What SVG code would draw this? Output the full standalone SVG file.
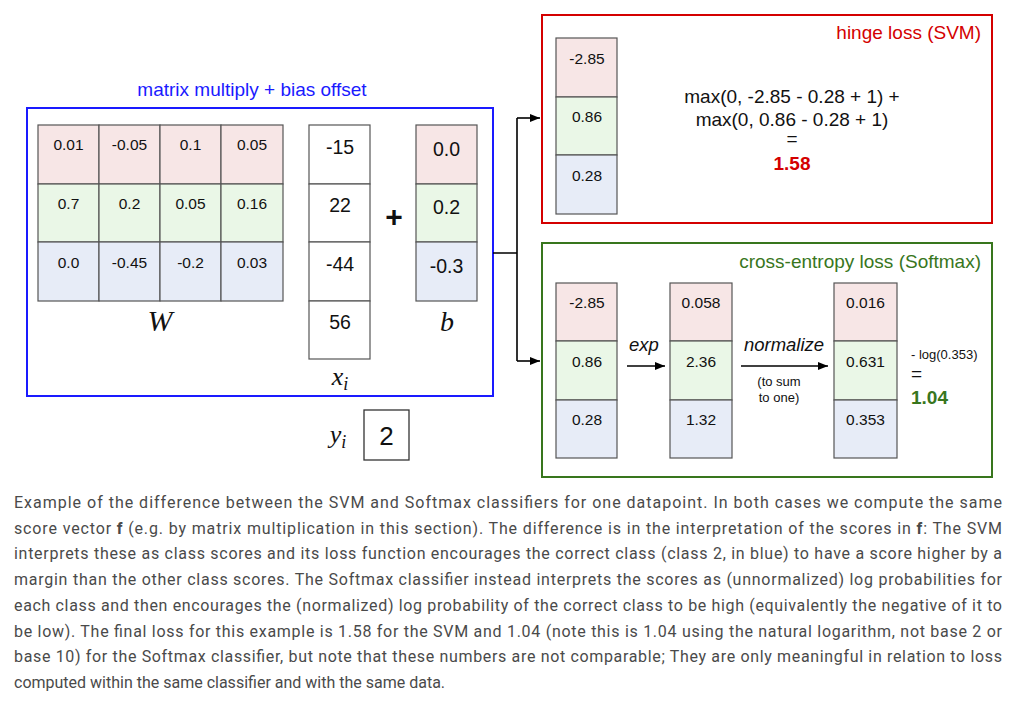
<svg xmlns="http://www.w3.org/2000/svg" width="1013" height="707" viewBox="0 0 1013 707">
<defs>
<marker id="ah" viewBox="0 0 10 10" refX="10" refY="5" markerWidth="10" markerHeight="10" markerUnits="userSpaceOnUse" orient="auto"><path d="M0,1 L10,5 L0,9 z" fill="#000"/></marker>
<style>
.r{fill:#f7e6e6}.g{fill:#eaf7e7}.b{fill:#e7ecf7}.w{fill:#fff}
.c{stroke:#555;stroke-width:1.2}
.t{font-family:"Liberation Sans",Arial,sans-serif;font-size:15.5px;fill:#111;text-anchor:middle}
.t16{font-family:"Liberation Sans",Arial,sans-serif;font-size:19.5px;fill:#111;text-anchor:middle}
.m{font-family:"Liberation Serif","Times New Roman",serif;font-style:italic;fill:#111;text-anchor:middle}
.cap{font-family:Roboto,"Liberation Sans",sans-serif;font-size:16px;fill:#4a4a4a}
.conn{stroke:#000;stroke-width:1.6;fill:none}
.s{font-family:"Liberation Sans",Arial,sans-serif}
</style>
</defs>
<rect width="1013" height="707" fill="#fff"/>

<g id="matrix-box">
<rect x="27" y="108" width="466" height="288" fill="none" stroke="#1a1aff" stroke-width="2"/>
<text class="s" x="252" y="96" font-size="19" fill="#1a1aff" text-anchor="middle">matrix multiply + bias offset</text>
</g>

<g id="W">
<g class="c">
<rect class="r" x="38" y="125" width="61" height="59"/><rect class="r" x="99" y="125" width="61" height="59"/><rect class="r" x="160" y="125" width="61" height="59"/><rect class="r" x="221" y="125" width="62" height="59"/>
<rect class="g" x="38" y="184" width="61" height="58"/><rect class="g" x="99" y="184" width="61" height="58"/><rect class="g" x="160" y="184" width="61" height="58"/><rect class="g" x="221" y="184" width="62" height="58"/>
<rect class="b" x="38" y="242" width="61" height="59"/><rect class="b" x="99" y="242" width="61" height="59"/><rect class="b" x="160" y="242" width="61" height="59"/><rect class="b" x="221" y="242" width="62" height="59"/>
</g>
<text class="t" x="68.5" y="150">0.01</text><text class="t" x="129.5" y="150">-0.05</text><text class="t" x="190.5" y="150">0.1</text><text class="t" x="252" y="150">0.05</text>
<text class="t" x="68.5" y="209">0.7</text><text class="t" x="129.5" y="209">0.2</text><text class="t" x="190.5" y="209">0.05</text><text class="t" x="252" y="209">0.16</text>
<text class="t" x="68.5" y="268">0.0</text><text class="t" x="129.5" y="268">-0.45</text><text class="t" x="190.5" y="268">-0.2</text><text class="t" x="252" y="268">0.03</text>
<text class="m" x="160" y="331" font-size="30">W</text>
</g>

<g id="x">
<g class="c">
<rect class="w" x="309" y="125" width="61" height="59"/><rect class="w" x="309" y="184" width="61" height="58"/><rect class="w" x="309" y="242" width="61" height="59"/><rect class="w" x="309" y="301" width="61" height="58"/>
</g>
<text class="t16" x="340" y="154">-15</text><text class="t16" x="340" y="212">22</text><text class="t16" x="340" y="271">-44</text><text class="t16" x="340" y="329">56</text>
<text class="m" x="340" y="385" font-size="26">x<tspan font-size="18" dy="5">i</tspan></text>
</g>

<g id="plus"><text class="s" x="394" y="227" font-size="30" font-weight="bold" fill="#111" text-anchor="middle">+</text></g>

<g id="b">
<g class="c">
<rect class="r" x="416" y="125" width="61" height="59"/><rect class="g" x="416" y="184" width="61" height="58"/><rect class="b" x="416" y="242" width="61" height="59"/>
</g>
<text class="t16" x="446.5" y="156">0.0</text><text class="t16" x="446.5" y="214">0.2</text><text class="t16" x="446.5" y="273">-0.3</text>
<text class="m" x="447" y="331" font-size="28">b</text>
</g>

<g id="y">
<text class="m" x="338" y="443" font-size="26">y<tspan font-size="18" dy="5">i</tspan></text>
<rect x="364" y="410" width="45" height="50" fill="#fff" stroke="#333" stroke-width="1.3"/>
<text class="s" x="386.5" y="445" font-size="26" fill="#111" text-anchor="middle">2</text>
</g>

<g id="connectors">
<path class="conn" d="M493,253 H517 M517,118 V361"/>
<path class="conn" d="M517,118 H540" marker-end="url(#ah)"/>
<path class="conn" d="M517,361 H540" marker-end="url(#ah)"/>
<path class="conn" d="M627,366 H665" marker-end="url(#ah)"/>
<path class="conn" d="M741,366 H828" marker-end="url(#ah)"/>
</g>

<g id="svm">
<rect x="542" y="15" width="450" height="208" fill="none" stroke="#d40000" stroke-width="2"/>
<text class="s" x="981" y="39" font-size="19" fill="#d40000" text-anchor="end">hinge loss (SVM)</text>
<g class="c">
<rect class="r" x="556" y="38" width="61" height="59"/><rect class="g" x="556" y="97" width="61" height="58"/><rect class="b" x="556" y="155" width="61" height="59"/>
</g>
<text class="t" x="587" y="64">-2.85</text><text class="t" x="587" y="122">0.86</text><text class="t" x="587" y="181">0.28</text>
<g class="s" font-size="19" fill="#111" text-anchor="middle">
<text x="792" y="103">max(0, -2.85 - 0.28 + 1) +</text>
<text x="792" y="126">max(0, 0.86 - 0.28 + 1)</text>
<text x="792" y="145">=</text>
</g>
<text class="s" x="792" y="170" font-size="19" font-weight="bold" fill="#d40000" text-anchor="middle">1.58</text>
</g>

<g id="softmax">
<rect x="542" y="243" width="450" height="234" fill="none" stroke="#38761d" stroke-width="2"/>
<text class="s" x="981" y="268" font-size="19" fill="#38761d" text-anchor="end">cross-entropy loss (Softmax)</text>
<g class="c">
<rect class="r" x="556" y="283" width="61" height="58"/><rect class="g" x="556" y="341" width="61" height="59"/><rect class="b" x="556" y="400" width="61" height="58"/>
<rect class="r" x="670" y="283" width="62" height="58"/><rect class="g" x="670" y="341" width="62" height="59"/><rect class="b" x="670" y="400" width="62" height="58"/>
<rect class="r" x="834" y="283" width="63" height="58"/><rect class="g" x="834" y="341" width="63" height="59"/><rect class="b" x="834" y="400" width="63" height="58"/>
</g>
<text class="t" x="587" y="308">-2.85</text><text class="t" x="587" y="367">0.86</text><text class="t" x="587" y="425">0.28</text>
<text class="t" x="701" y="308">0.058</text><text class="t" x="701" y="367">2.36</text><text class="t" x="701" y="425">1.32</text>
<text class="t" x="865.5" y="308">0.016</text><text class="t" x="865.5" y="367">0.631</text><text class="t" x="865.5" y="425">0.353</text>
<g class="s" font-style="italic" font-size="18.5" fill="#111" text-anchor="middle">
<text x="644" y="351">exp</text>
<text x="784" y="351">normalize</text>
</g>
<g class="s" font-size="13" fill="#111" text-anchor="middle">
<text x="779" y="386">(to sum</text>
<text x="779" y="402">to one)</text>
</g>
<text class="s" x="911" y="359" font-size="13" fill="#111">- log(0.353)</text>
<text class="s" x="911" y="380" font-size="19" fill="#111">=</text>
<text class="s" x="911" y="404" font-size="19" font-weight="bold" fill="#38761d">1.04</text>
</g>

<g id="caption" class="cap">
<text x="14" y="508" textLength="988" lengthAdjust="spacing">Example of the difference between the SVM and Softmax classifiers for one datapoint. In both cases we compute the same</text>
<text x="14" y="534" textLength="988" lengthAdjust="spacing">score vector <tspan font-weight="bold">f</tspan> (e.g. by matrix multiplication in this section). The difference is in the interpretation of the scores in <tspan font-weight="bold">f</tspan>: The SVM</text>
<text x="14" y="559" textLength="988" lengthAdjust="spacing">interprets these as class scores and its loss function encourages the correct class (class 2, in blue) to have a score higher by a</text>
<text x="14" y="585" textLength="988" lengthAdjust="spacing">margin than the other class scores. The Softmax classifier instead interprets the scores as (unnormalized) log probabilities for</text>
<text x="14" y="611" textLength="988" lengthAdjust="spacing">each class and then encourages the (normalized) log probability of the correct class to be high (equivalently the negative of it to</text>
<text x="14" y="637" textLength="988" lengthAdjust="spacing">be low). The final loss for this example is 1.58 for the SVM and 1.04 (note this is 1.04 using the natural logarithm, not base 2 or</text>
<text x="14" y="662" textLength="988" lengthAdjust="spacing">base 10) for the Softmax classifier, but note that these numbers are not comparable; They are only meaningful in relation to loss</text>
<text x="14" y="688">computed within the same classifier and with the same data.</text>
</g>
</svg>
